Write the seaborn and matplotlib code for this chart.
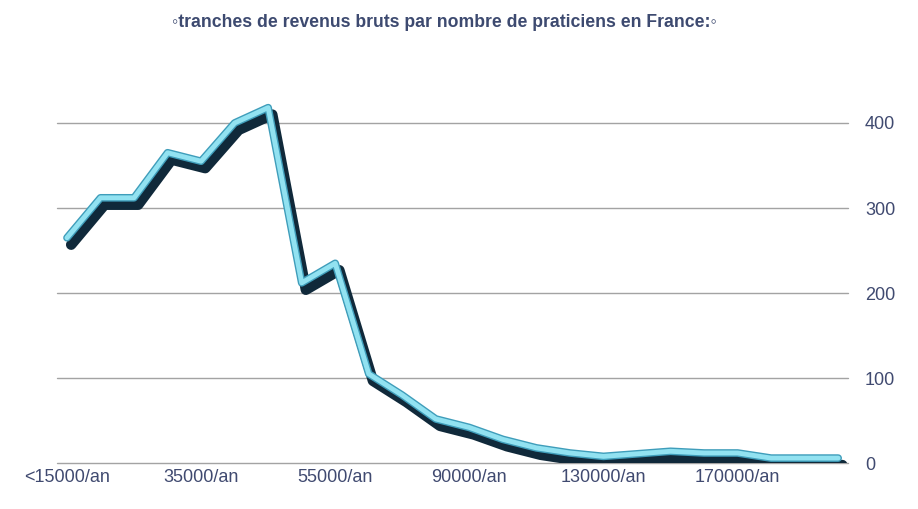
import matplotlib
matplotlib.use("Agg")
import matplotlib.pyplot as plt
import matplotlib.patheffects as pe
import seaborn as sns
import pandas as pd

# tranches de revenus (24 catégories, une étiquette sur 4 affichée)
tranches = ["<15000/an", "20000/an", "25000/an", "30000/an", "35000/an", "40000/an",
            "45000/an", "50000/an", "55000/an", "60000/an", "70000/an", "80000/an",
            "90000/an", "100000/an", "110000/an", "120000/an", "130000/an", "140000/an",
            "150000/an", "160000/an", "170000/an", "180000/an", "190000/an", ">200000/an"]
praticiens = [265, 312, 312, 365, 355, 400, 418, 212, 235, 105, 80, 52,
              42, 28, 18, 12, 8, 11, 14, 12, 12, 6, 6, 6]
yticks = [0, 100, 200, 300, 400]

df = pd.DataFrame({"pos": range(len(tranches)), "n": praticiens})

sns.set_style("white")
plt.rcParams["font.family"] = ["Liberation Sans", "DejaVu Sans"]

fig = plt.figure(figsize=(9.18, 5.09), dpi=100)
ax = fig.add_axes([0.062, 0.09, 0.862, 0.752])

for v in yticks:
    ax.axhline(v, color="#a3a3a3", lw=1.0, zorder=1, clip_on=False)

sns.lineplot(data=df, x="pos", y="n", ax=ax, color="#92e2f1", lw=3.5, zorder=3,
             path_effects=[pe.SimpleLineShadow(offset=(3, -5), shadow_color="#10293a", alpha=1, rho=1, linewidth=7.5),
                           pe.Stroke(linewidth=5.5, foreground="#3f9dba"),
                           pe.Normal()])

ax.set_xlim(-0.3, 23.3)
ax.set_ylim(0, 450)
ax.set_xticks(range(0, len(tranches), 4))
ax.set_xticklabels(tranches[::4])
ax.set_yticks(yticks)
ax.yaxis.tick_right()
ax.tick_params(axis="both", length=0, labelsize=13, labelcolor="#404a70")
ax.tick_params(axis="y", pad=12)
ax.tick_params(axis="x", pad=4)
ax.set_xlabel("")
ax.set_ylabel("")
sns.despine(ax=ax, left=True, right=True, top=True, bottom=True)

fig.text(0.484, 0.955, "\u25e6tranches de revenus bruts par nombre de praticiens en France:\u25e6",
         ha="center", va="center", fontsize=12.7, fontweight="bold", color="#3d4a70")

fig.savefig("out.png", dpi=100)
